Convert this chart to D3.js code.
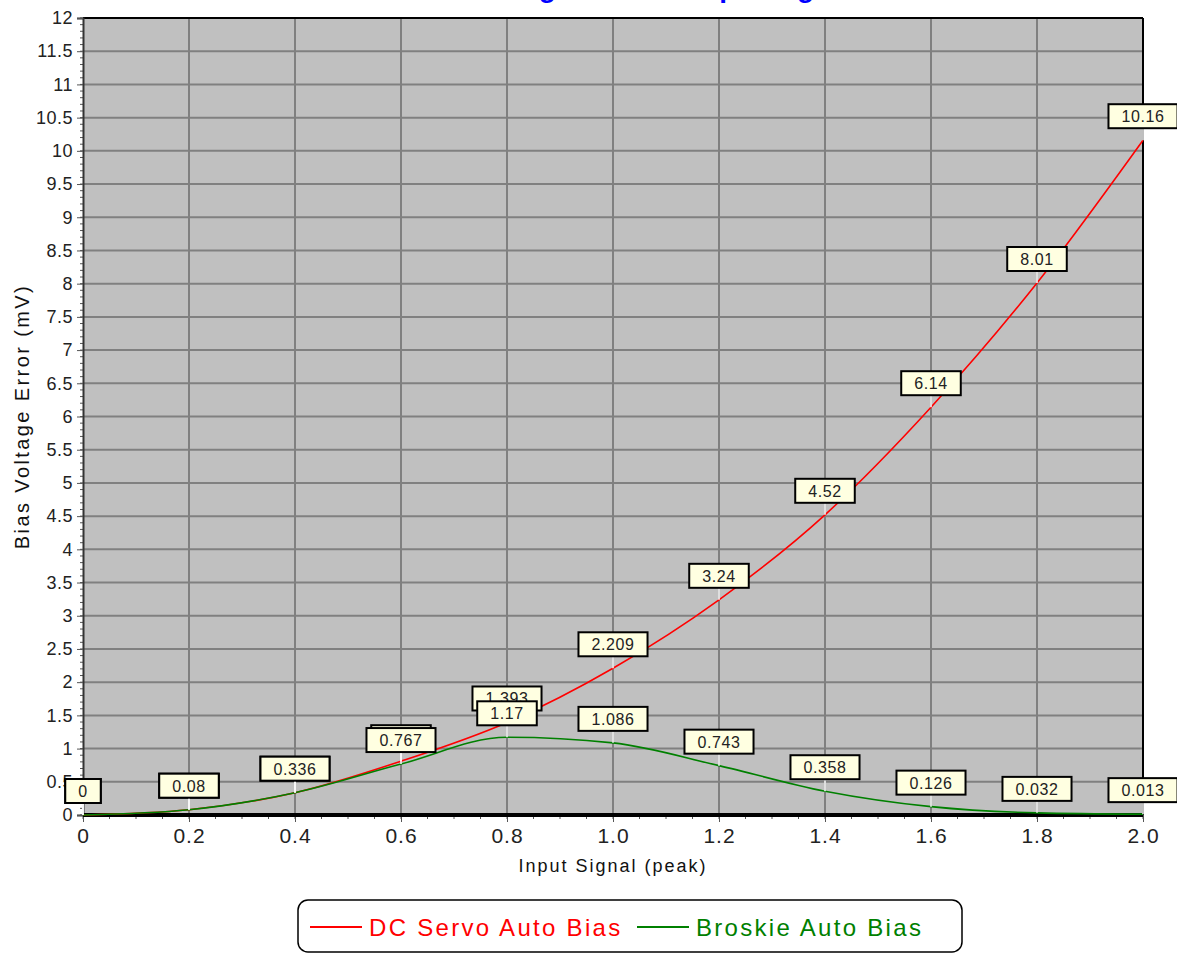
<!DOCTYPE html>
<html>
<head>
<meta charset="utf-8">
<script src="https://cdn.jsdelivr.net/npm/d3@7"></script>
<style>
  body { margin: 0; background: #fff; }
  svg { display: block; font-family: "Liberation Sans", Arial, sans-serif; }
</style>
</head>
<body>
<div id="chart-container"></div>
<script>
// values
const inputSignal = [0, 0.2, 0.4, 0.6, 0.8, 1.0, 1.2, 1.4, 1.6, 1.8, 2.0];
const dcServo = [0, 0.08, 0.336, 0.81, 1.393, 2.209, 3.24, 4.52, 6.14, 8.01, 10.16];
const broskie = [0, 0.08, 0.336, 0.767, 1.17, 1.086, 0.743, 0.358, 0.126, 0.032, 0.013];
const seriesNames = ["DC Servo Auto Bias", "Broskie Auto Bias"];
const seriesColors = ["#ff0000", "#008000"];
const xTicks = [0, 0.2, 0.4, 0.6, 0.8, 1.0, 1.2, 1.4, 1.6, 1.8, 2.0];
const yTicks = d3.range(0, 12.01, 0.5);

const width = 1177, height = 954;
const margin = { top: 18, right: 34, bottom: 139, left: 83 };
const innerW = width - margin.left - margin.right;
const innerH = height - margin.top - margin.bottom;

const svg = d3.select("#chart-container").append("svg")
  .attr("width", width).attr("height", height);

// title (cut off at the top in the original)
svg.append("text")
  .attr("x", 630).attr("y", -3)
  .attr("text-anchor", "middle")
  .attr("fill", "#0000ff")
  .style("font-size", "28px").style("font-weight", "bold")
  .text("Bias Voltage Error vs Input Signal");

const g = svg.append("g").attr("transform", `translate(${margin.left},${margin.top})`);

const x = d3.scaleLinear().domain([0, 2]).range([0, innerW]);
const y = d3.scaleLinear().domain([0, 12]).range([innerH, 0]);

g.append("rect").attr("width", innerW).attr("height", innerH).attr("fill", "#c0c0c0");

// grid
g.append("g").selectAll("line").data(xTicks.slice(1, -1)).join("line")
  .attr("x1", d => x(d)).attr("x2", d => x(d)).attr("y1", 0).attr("y2", innerH)
  .attr("stroke", "#808080").attr("stroke-width", 2);
g.append("g").selectAll("line").data(yTicks.slice(1, -1)).join("line")
  .attr("x1", 0).attr("x2", innerW).attr("y1", d => y(d)).attr("y2", d => y(d))
  .attr("stroke", "#808080").attr("stroke-width", 2);

// frame
g.append("line").attr("x1", 0).attr("x2", innerW).attr("y1", 0).attr("y2", 0)
  .attr("stroke", "#000").attr("stroke-width", 2);
g.append("line").attr("x1", innerW).attr("x2", innerW).attr("y1", 0).attr("y2", innerH)
  .attr("stroke", "#000").attr("stroke-width", 2);

// minor ticks
g.append("g").selectAll("line").data(d3.range(0, 12.01, 0.1)).join("line")
  .attr("x1", -3).attr("x2", 0).attr("y1", d => y(d)).attr("y2", d => y(d))
  .attr("stroke", "#555").attr("stroke-width", 1);
g.append("g").selectAll("line").data(d3.range(0, 2.001, 0.05)).join("line")
  .attr("x1", d => x(d)).attr("x2", d => x(d)).attr("y1", innerH).attr("y2", innerH + 4)
  .attr("stroke", "#555").attr("stroke-width", 1);

// axes
const yAxis = g.append("g")
  .call(d3.axisLeft(y).tickValues(yTicks).tickSize(6).tickPadding(4)
    .tickFormat(d => Number.isInteger(d) ? d : d3.format(".1f")(d)));
yAxis.select(".domain").attr("stroke", "#333").attr("stroke-width", 2);
yAxis.selectAll(".tick line").attr("stroke", "#555");
yAxis.selectAll("text").style("font-size", "18px").style("letter-spacing", "0.5px").attr("fill", "#222");

const xAxis = g.append("g").attr("transform", `translate(0,${innerH})`)
  .call(d3.axisBottom(x).tickValues(xTicks).tickSize(7).tickPadding(6)
    .tickFormat(d => d === 0 ? "0" : d3.format(".1f")(d)));
xAxis.select(".domain").remove();
xAxis.selectAll(".tick line").attr("stroke", "#555");
xAxis.selectAll("text").style("font-size", "21px").style("letter-spacing", "1px").attr("fill", "#222");

g.append("line").attr("x1", 0).attr("x2", innerW).attr("y1", innerH).attr("y2", innerH)
  .attr("stroke", "#000").attr("stroke-width", 4);

// lines
const series = [dcServo, broskie];
const line = d3.line()
  .x((d, i) => x(inputSignal[i]))
  .y(d => y(d))
  .curve(d3.curveMonotoneX);

series.forEach((vals, k) => {
  g.append("path").datum(vals)
    .attr("fill", "none")
    .attr("stroke", seriesColors[k])
    .attr("stroke-width", 1.6)
    .attr("d", line);
});

// value labels
series.forEach(vals => {
  vals.forEach((v, i) => {
    const px = x(inputSignal[i]), py = y(v);
    const lab = g.append("g");
    lab.append("line").attr("x1", px).attr("x2", px)
      .attr("y1", py - 12).attr("y2", py)
      .attr("stroke", "#fff").attr("stroke-width", 1.5);
    const rect = lab.append("rect");
    const t = lab.append("text")
      .attr("x", px).attr("y", py - 18)
      .attr("text-anchor", "middle")
      .attr("fill", "#222")
      .style("font-size", "16px")
      .style("letter-spacing", "0.6px")
      .text(v);
    const w = t.node().getComputedTextLength() + 26;
    rect.attr("x", px - w / 2).attr("y", py - 36).attr("width", w).attr("height", 24)
      .attr("fill", "#ffffe1").attr("stroke", "#000").attr("stroke-width", 2);
  });
});

// axis titles
svg.append("text")
  .attr("transform", `translate(29,${margin.top + innerH / 2}) rotate(-90)`)
  .attr("text-anchor", "middle")
  .attr("fill", "#111")
  .style("font-size", "20px")
  .style("letter-spacing", "2.4px")
  .text("Bias Voltage Error (mV)");
svg.append("text")
  .attr("x", margin.left + innerW / 2).attr("y", 872)
  .attr("text-anchor", "middle")
  .attr("fill", "#111")
  .style("font-size", "18px")
  .style("letter-spacing", "2px")
  .text("Input Signal (peak)");

// legend
const lg = svg.append("g");
lg.append("rect").attr("x", 298).attr("y", 900).attr("width", 664).attr("height", 52)
  .attr("rx", 10).attr("fill", "#fff").attr("stroke", "#000").attr("stroke-width", 1.5);
const legendX = [310, 637];
seriesNames.forEach((name, k) => {
  lg.append("line").attr("x1", legendX[k]).attr("x2", legendX[k] + 52)
    .attr("y1", 927).attr("y2", 927)
    .attr("stroke", seriesColors[k]).attr("stroke-width", 2);
  lg.append("text").attr("x", legendX[k] + 59).attr("y", 936)
    .attr("fill", seriesColors[k])
    .style("font-size", "24px")
    .style("letter-spacing", "2.3px")
    .text(name);
});
</script>
</body>
</html>
